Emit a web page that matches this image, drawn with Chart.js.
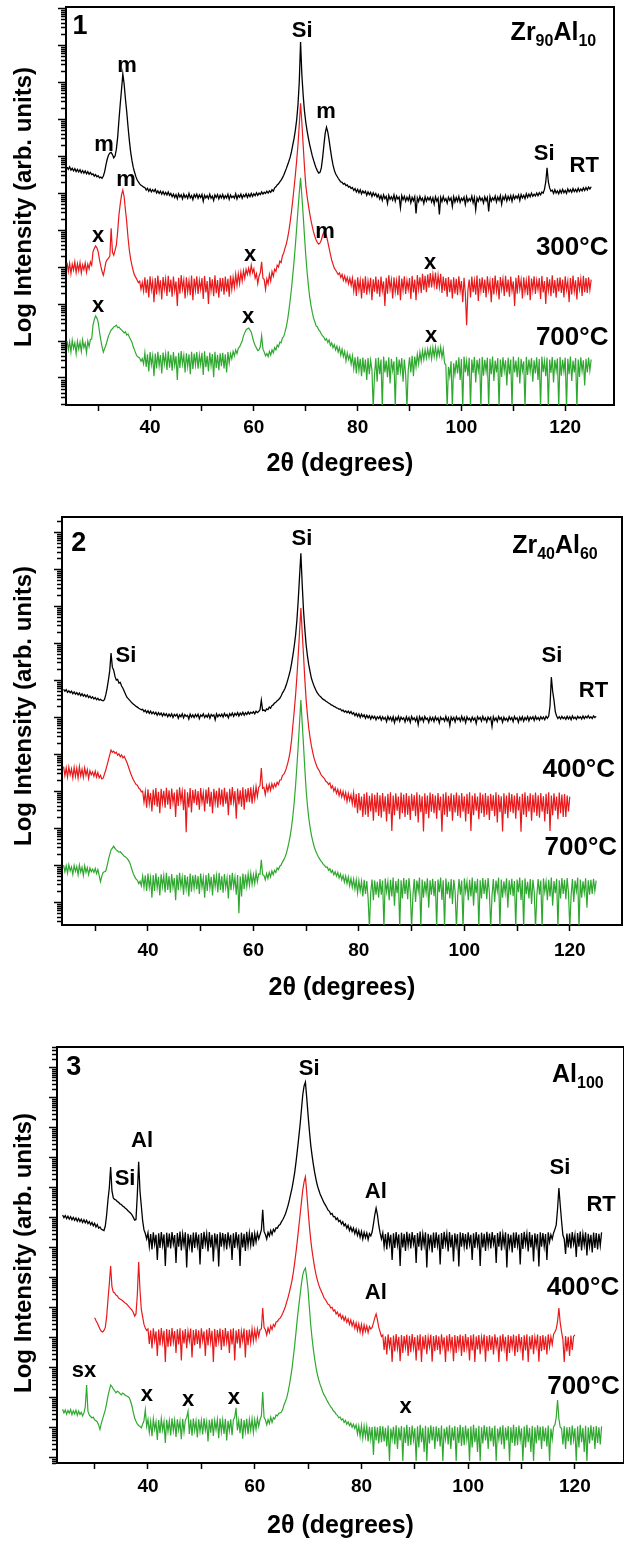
<!DOCTYPE html>
<html>
<head>
<meta charset="utf-8">
<title>XRD patterns – Zr90Al10, Zr40Al60, Al100</title>
<script src="https://cdn.jsdelivr.net/npm/chart.js@4.4.1/dist/chart.umd.min.js"></script>
<style>
  html, body { margin: 0; padding: 0; background: #ffffff; }
  body { position: relative; width: 624px; height: 1542px; overflow: hidden; }
  canvas { position: absolute; left: 0; }
</style>
</head>
<body>
<canvas id="panel1" width="624" height="500" style="top:0px"></canvas>
<canvas id="panel2" width="624" height="510" style="top:505px"></canvas>
<canvas id="panel3" width="624" height="507" style="top:1035px"></canvas>
<script>
// ---- measurement grid: 2θ from 24° in 0.25° steps ----
const angleStart = 24;
const angleStep = 0.25;

// ---- x axis ticks (degrees) ----
const xTickValues = [30, 40, 50, 60, 70, 80, 90, 100, 110, 120, 130];
const xTickLabels = [40, 60, 80, 100, 120];

// ---- Panel 1: Zr90Al10, log intensity (decades, vertically offset per anneal) ----
const zr90al10_RT = [
  5.70, 5.64, 5.71, 5.62, 5.67, 5.60, 5.66, 5.58, 5.64, 5.57, 5.63, 5.55, 5.61, 5.54, 5.60, 5.52, 5.58, 5.51, 5.56, 5.50,
  5.52, 5.46, 5.50, 5.44, 5.47, 5.41, 5.43, 5.40, 5.46, 5.58, 5.76, 5.92, 6.03, 6.08, 6.10, 6.04, 5.95, 6.00, 6.18, 6.50,
  6.97, 7.40, 7.80, 8.22, 7.95, 7.55, 7.20, 6.80, 6.43, 6.12, 5.89, 5.70, 5.57, 5.45, 5.36, 5.30, 5.25, 5.21, 5.19, 5.16,
  5.15, 5.08, 5.13, 5.05, 5.11, 5.03, 5.09, 5.04, 5.10, 5.00, 5.06, 4.99, 5.05, 4.97, 5.04, 4.96, 5.02, 4.95, 5.03, 4.94,
  4.99, 4.90, 4.97, 4.88, 4.96, 4.85, 4.98, 4.89, 4.95, 4.84, 4.97, 4.88, 4.94, 4.86, 4.99, 4.87, 4.93, 4.82, 4.96, 4.89,
  4.97, 4.86, 4.95, 4.88, 4.96, 4.78, 4.94, 4.87, 4.93, 4.85, 4.97, 4.86, 4.92, 4.80, 4.95, 4.88, 4.96, 4.84, 4.94, 4.87,
  4.96, 4.85, 4.93, 4.87, 4.97, 4.83, 4.95, 4.88, 4.92, 4.86, 4.98, 4.84, 4.94, 4.89, 4.97, 4.86, 4.95, 4.90, 4.98, 4.88,
  4.97, 4.90, 4.99, 4.91, 4.98, 4.93, 5.01, 4.94, 5.00, 4.96, 5.03, 4.97, 5.02, 4.99, 5.05, 5.00, 5.06, 5.02, 5.09, 5.05,
  5.14, 5.17, 5.22, 5.25, 5.30, 5.35, 5.41, 5.48, 5.57, 5.66, 5.76, 5.86, 5.97, 6.12, 6.30, 6.48, 6.70, 6.98, 7.38, 8.00,
  9.08, 8.20, 7.65, 7.22, 6.92, 6.69, 6.49, 6.31, 6.16, 6.01, 5.89, 5.78, 5.68, 5.60, 5.54, 5.56, 5.68, 5.95, 6.30, 6.62,
  6.78, 6.65, 6.43, 6.18, 5.95, 5.76, 5.62, 5.52, 5.46, 5.40, 5.35, 5.30, 5.29, 5.24, 5.26, 5.20, 5.22, 5.16, 5.18, 5.12,
  5.15, 5.07, 5.12, 5.03, 5.10, 5.01, 5.09, 4.98, 5.06, 5.00, 5.05, 4.94, 5.03, 4.96, 5.02, 4.91, 5.01, 4.93, 4.99, 4.89,
  4.96, 4.84, 4.93, 4.80, 4.95, 4.85, 4.91, 4.72, 4.94, 4.83, 4.90, 4.81, 4.95, 4.78, 4.92, 4.84, 4.89, 4.60, 4.93, 4.82,
  4.91, 4.78, 4.89, 4.80, 4.92, 4.74, 4.88, 4.79, 4.90, 4.45, 4.87, 4.77, 4.91, 4.80, 4.86, 4.72, 4.90, 4.78, 4.88, 4.81,
  4.89, 4.76, 4.87, 4.70, 4.90, 4.78, 4.86, 4.42, 4.88, 4.77, 4.91, 4.79, 4.85, 4.73, 4.89, 4.80, 4.87, 4.64, 4.90, 4.76,
  4.88, 4.78, 4.91, 4.75, 4.86, 4.80, 4.89, 4.69, 4.90, 4.77, 4.85, 4.79, 4.92, 4.74, 4.88, 4.55, 4.87, 4.78, 4.90, 4.80,
  4.86, 4.73, 4.90, 4.79, 4.88, 4.50, 4.91, 4.78, 4.87, 4.81, 4.92, 4.76, 4.89, 4.80, 4.93, 4.70, 4.90, 4.82, 4.94, 4.79,
  4.91, 4.82, 4.93, 4.78, 4.94, 4.84, 4.92, 4.86, 4.95, 4.80, 4.96, 4.87, 4.94, 4.85, 4.98, 4.88, 4.97, 4.90, 5.00, 4.91,
  4.97, 4.92, 5.00, 4.93, 5.01, 4.95, 5.03, 5.00, 5.10, 5.30, 5.68, 5.30, 5.14, 5.05, 5.08, 4.99, 5.09, 5.00, 5.06, 4.98,
  5.08, 5.00, 5.10, 5.01, 5.07, 4.99, 5.11, 5.03, 5.09, 5.02, 5.12, 5.04, 5.10, 5.03, 5.13, 5.05, 5.11, 5.06, 5.14, 5.07,
  5.15, 5.08, 5.16, 5.11, 5.17
];
const zr90al10_300C = [
  3.12, 2.88, 3.10, 2.82, 3.08, 2.92, 3.14, 2.85, 3.09, 2.90, 3.12, 2.84, 3.06, 2.93, 3.11, 2.86, 3.08, 2.95, 3.14, 3.05,
  3.41, 3.50, 3.57, 3.52, 3.41, 3.20, 3.03, 2.88, 2.78, 2.95, 3.14, 3.20, 3.24, 3.30, 4.05, 3.40, 3.32, 3.45, 3.59, 3.95,
  4.41, 4.70, 4.95, 5.08, 4.90, 4.55, 4.22, 3.80, 3.46, 3.22, 3.05, 2.90, 2.78, 2.72, 2.65, 2.58, 2.62, 2.40, 2.58, 2.35,
  2.72, 2.30, 2.66, 2.18, 2.75, 2.38, 2.62, 2.05, 2.70, 2.26, 2.77, 2.35, 2.64, 2.12, 2.73, 2.40, 2.68, 2.22, 2.76, 2.32,
  2.66, 2.20, 2.74, 2.36, 2.61, 1.95, 2.71, 2.28, 2.78, 2.40, 2.65, 2.15, 2.72, 2.33, 2.63, 2.24, 2.77, 2.10, 2.69, 2.37,
  2.75, 2.27, 2.64, 2.39, 2.70, 2.14, 2.76, 2.31, 2.62, 2.00, 2.73, 2.36, 2.67, 2.21, 2.78, 2.29, 2.65, 2.17, 2.71, 2.34,
  2.70, 2.25, 2.74, 2.33, 2.68, 2.20, 2.77, 2.40, 2.72, 2.45, 2.80, 2.50, 2.82, 2.55, 2.86, 2.62, 2.90, 2.70, 2.94, 2.80,
  2.97, 2.80, 3.05, 2.85, 2.95, 2.70, 2.82, 2.55, 2.76, 2.85, 3.14, 2.70, 2.66, 2.40, 2.68, 2.55, 2.80, 2.62, 2.88, 2.75,
  2.94, 2.88, 3.05, 3.00, 3.16, 3.12, 3.30, 3.38, 3.51, 3.62, 3.78, 3.98, 4.22, 4.50, 4.81, 5.15, 5.49, 5.88, 6.30, 6.85,
  7.43, 6.90, 6.30, 5.72, 5.22, 4.92, 4.68, 4.46, 4.27, 4.10, 3.95, 3.83, 3.73, 3.66, 3.62, 3.65, 3.73, 3.86, 3.95, 3.92,
  3.84, 3.68, 3.51, 3.34, 3.19, 3.08, 2.97, 2.92, 2.86, 2.80, 2.84, 2.72, 2.80, 2.64, 2.76, 2.60, 2.72, 2.55, 2.70, 2.50,
  2.70, 2.35, 2.66, 2.22, 2.72, 2.38, 2.64, 2.15, 2.69, 2.30, 2.75, 2.25, 2.62, 2.36, 2.71, 2.10, 2.67, 2.33, 2.74, 2.28,
  2.66, 2.20, 2.74, 2.36, 2.61, 1.95, 2.71, 2.28, 2.78, 2.40, 2.65, 2.15, 2.72, 2.33, 2.63, 2.24, 2.77, 2.10, 2.69, 2.37,
  2.75, 2.27, 2.64, 2.39, 2.70, 2.14, 2.76, 2.31, 2.66, 2.10, 2.78, 2.40, 2.72, 2.30, 2.82, 2.38, 2.76, 2.32, 2.80, 2.44,
  2.84, 2.45, 2.80, 2.50, 2.85, 2.40, 2.78, 2.46, 2.82, 2.30, 2.74, 2.36, 2.70, 2.20, 2.73, 2.32, 2.66, 2.15, 2.72, 2.28,
  2.68, 2.24, 2.75, 2.35, 2.62, 2.05, 2.71, 2.30, 1.43, 2.38, 2.66, 2.18, 2.74, 2.32, 2.63, 2.25, 2.77, 2.08, 2.69, 2.36,
  2.72, 2.30, 2.66, 2.18, 2.75, 2.38, 2.62, 2.05, 2.70, 2.26, 2.77, 2.35, 2.64, 2.12, 2.73, 2.40, 2.68, 2.22, 2.76, 2.32,
  2.66, 2.20, 2.74, 2.36, 2.61, 1.95, 2.71, 2.28, 2.78, 2.40, 2.65, 2.15, 2.72, 2.33, 2.63, 2.24, 2.77, 2.10, 2.69, 2.37,
  2.75, 2.27, 2.64, 2.39, 2.70, 2.14, 2.76, 2.31, 2.62, 2.00, 2.73, 2.36, 2.67, 2.21, 2.78, 2.29, 2.65, 2.17, 2.71, 2.34,
  2.72, 2.30, 2.66, 2.18, 2.75, 2.38, 2.62, 2.05, 2.70, 2.26, 2.77, 2.35, 2.64, 2.12, 2.73, 2.40, 2.68, 2.22, 2.76, 2.32,
  2.70, 2.30, 2.72, 2.38, 2.66
];
const zr90al10_700C = [
  1.00, 0.76, 0.98, 0.70, 1.02, 0.80, 0.95, 0.66, 0.99, 0.78, 0.97, 0.72, 1.03, 0.82, 0.94, 0.68, 1.00, 0.85, 1.04, 1.05,
  1.43, 1.58, 1.68, 1.62, 1.51, 1.25, 1.03, 0.84, 0.70, 0.80, 0.89, 1.02, 1.14, 1.22, 1.30, 1.33, 1.38, 1.40, 1.43, 1.36,
  1.38, 1.33, 1.30, 1.26, 1.22, 1.25, 1.16, 1.19, 1.11, 1.04, 0.97, 0.85, 0.76, 0.66, 0.59, 0.56, 0.54, 0.45, 0.52, 0.38,
  0.68, 0.30, 0.64, 0.18, 0.70, 0.36, 0.60, 0.05, 0.66, 0.26, 0.71, 0.33, 0.62, 0.12, 0.69, 0.38, 0.65, 0.22, 0.72, 0.28,
  0.63, 0.20, 0.70, 0.34, 0.59, -0.05, 0.68, 0.27, 0.73, 0.37, 0.61, 0.15, 0.67, 0.31, 0.64, 0.10, 0.71, 0.24, 0.66, 0.35,
  0.70, 0.25, 0.62, 0.36, 0.68, 0.08, 0.72, 0.29, 0.60, 0.18, 0.69, 0.33, 0.65, 0.02, 0.71, 0.27, 0.63, 0.21, 0.67, 0.32,
  0.68, 0.26, 0.64, 0.15, 0.70, 0.40, 0.66, 0.52, 0.72, 0.60, 0.76, 0.66, 0.80, 0.84, 0.92, 1.00, 1.14, 1.22, 1.30, 1.33,
  1.35, 1.30, 1.24, 1.10, 0.97, 0.88, 0.81, 0.74, 0.76, 0.85, 1.14, 0.78, 0.70, 0.60, 0.66, 0.58, 0.72, 0.62, 0.76, 0.68,
  0.82, 0.76, 0.89, 0.84, 0.97, 0.95, 1.08, 1.12, 1.24, 1.38, 1.57, 1.82, 2.11, 2.42, 2.78, 3.16, 3.59, 4.05, 4.54, 5.00,
  5.41, 4.92, 4.41, 3.85, 3.32, 2.88, 2.51, 2.20, 1.97, 1.78, 1.62, 1.52, 1.41, 1.38, 1.30, 1.26, 1.19, 1.14, 1.10, 1.02,
  1.06, 0.96, 1.03, 0.88, 0.95, 0.82, 0.90, 0.76, 0.86, 0.70, 0.82, 0.62, 0.78, 0.58, 0.72, 0.46, 0.68, 0.50, 0.62, 0.38,
  0.60, 0.25, 0.56, 0.12, 0.58, 0.20, 0.52, 0.05, 0.55, 0.15, 0.50, -0.05, 0.54, 0.10, 0.48, 0.22, -0.80, 0.08, 0.53, -0.10,
  0.55, 0.10, 0.50, -0.80, 0.58, 0.15, 0.47, 0.02, 0.56, -0.15, 0.52, 0.20, 0.45, -0.80, 0.57, 0.08, 0.50, 0.18, 0.54, -0.10,
  0.50, 0.10, -0.80, 0.22, 0.56, 0.15, 0.60, 0.05, 0.58, 0.30, 0.64, 0.38, 0.70, 0.45, 0.74, 0.50, 0.76, 0.54, 0.78, 0.56,
  0.80, 0.52, 0.82, 0.58, 0.84, 0.55, 0.80, 0.60, 0.84, 0.56, 0.78, 0.40, 0.35, -0.80, 0.30, 0.05, 0.45, -0.80, 0.40, 0.10,
  0.48, 0.12, 0.56, -0.05, 0.51, -0.80, 0.58, 0.16, 0.46, 0.05, 0.55, -0.80, 0.50, 0.14, 0.57, -0.12, 0.49, 0.20, 0.53, -0.80,
  0.57, 0.06, 0.49, 0.18, 0.55, -0.80, 0.52, 0.10, 0.58, -0.08, 0.47, 0.15, 0.54, -0.80, 0.50, 0.03, 0.56, 0.19, 0.48, -0.20,
  0.55, 0.10, 0.50, -0.80, 0.58, 0.15, 0.47, 0.02, 0.56, -0.15, 0.52, 0.20, 0.45, -0.80, 0.57, 0.08, 0.50, 0.18, 0.54, -0.10,
  0.48, 0.12, 0.56, -0.05, 0.51, -0.80, 0.58, 0.16, 0.46, 0.05, 0.55, -0.80, 0.50, 0.14, 0.57, -0.12, 0.49, 0.20, 0.53, -0.80,
  0.57, 0.06, 0.49, 0.18, 0.55, -0.80, 0.52, 0.10, 0.58, -0.08, 0.47, 0.15, 0.54, -0.80, 0.50, 0.03, 0.56, 0.19, 0.48, -0.20,
  0.52, 0.15, 0.55, 0.20, 0.50
];

// ---- Panel 2: Zr40Al60 ----
const zr40al60_RT = [
  5.75, 5.70, 5.74, 5.67, 5.71, 5.66, 5.70, 5.63, 5.68, 5.62, 5.66, 5.60, 5.65, 5.58, 5.63, 5.57, 5.61, 5.55, 5.60, 5.53,
  5.57, 5.51, 5.55, 5.49, 5.53, 5.47, 5.51, 5.46, 5.48, 5.45, 5.44, 5.47, 5.60, 5.78, 6.00, 6.25, 6.73, 6.35, 6.27, 6.10,
  6.00, 6.02, 5.92, 5.94, 5.84, 5.78, 5.70, 5.62, 5.54, 5.50, 5.46, 5.42, 5.38, 5.35, 5.32, 5.29, 5.27, 5.24, 5.22, 5.20,
  5.21, 5.15, 5.19, 5.12, 5.17, 5.10, 5.16, 5.09, 5.14, 5.08, 5.13, 5.05, 5.12, 5.06, 5.11, 5.03, 5.10, 5.04, 5.09, 5.01,
  5.08, 5.02, 5.09, 4.99, 5.07, 5.03, 5.08, 4.97, 5.06, 5.01, 5.09, 4.98, 5.07, 5.02, 5.05, 4.95, 5.08, 5.00, 5.06, 4.99,
  5.07, 5.01, 5.08, 4.96, 5.06, 5.02, 5.09, 4.99, 5.05, 5.00, 5.08, 4.97, 5.07, 5.03, 5.06, 4.93, 5.09, 5.01, 5.07, 5.02,
  5.08, 5.00, 5.10, 5.03, 5.07, 4.98, 5.09, 5.04, 5.11, 5.02, 5.10, 5.05, 5.12, 5.03, 5.11, 5.06, 5.13, 5.05, 5.12, 5.07,
  5.14, 5.08, 5.13, 5.10, 5.15, 5.09, 5.16, 5.12, 5.15, 5.20, 5.46, 5.18, 5.19, 5.16, 5.22, 5.20, 5.27, 5.24, 5.31, 5.33,
  5.38, 5.40, 5.44, 5.47, 5.51, 5.57, 5.65, 5.71, 5.78, 5.88, 6.00, 6.13, 6.27, 6.46, 6.68, 6.93, 7.22, 7.62, 8.16, 8.80,
  9.43, 8.60, 7.89, 7.38, 6.95, 6.65, 6.41, 6.22, 6.05, 5.94, 5.84, 5.76, 5.68, 5.63, 5.58, 5.55, 5.51, 5.48, 5.46, 5.43,
  5.41, 5.38, 5.36, 5.33, 5.32, 5.29, 5.28, 5.25, 5.24, 5.21, 5.22, 5.17, 5.19, 5.14, 5.17, 5.12, 5.16, 5.10, 5.15, 5.08,
  5.12, 5.04, 5.10, 5.02, 5.09, 4.99, 5.08, 5.01, 5.06, 4.97, 5.05, 4.98, 5.04, 4.95, 5.03, 4.97, 5.02, 4.93, 5.01, 4.96,
  5.02, 4.92, 5.01, 4.94, 4.99, 4.88, 5.02, 4.93, 5.00, 4.90, 5.01, 4.85, 4.99, 4.92, 5.02, 4.89, 5.00, 4.94, 4.98, 4.87,
  5.01, 4.91, 4.99, 4.86, 5.02, 4.93, 4.98, 4.89, 5.00, 4.80, 5.01, 4.92, 4.99, 4.88, 5.02, 4.94, 4.97, 4.86, 5.00, 4.91,
  4.99, 4.88, 5.01, 4.92, 4.98, 4.84, 5.00, 4.93, 4.97, 4.89, 5.02, 4.90, 4.98, 4.78, 5.00, 4.92, 4.99, 4.87, 5.01, 4.93,
  4.98, 4.89, 5.02, 4.91, 4.99, 4.85, 5.01, 4.93, 4.97, 4.88, 5.00, 4.92, 4.98, 4.83, 5.01, 4.94, 4.99, 4.89, 5.02, 4.92,
  4.98, 4.87, 5.00, 4.93, 4.99, 4.75, 5.01, 4.91, 4.98, 4.88, 5.02, 4.94, 4.99, 4.86, 5.00, 4.92, 4.97, 4.89, 5.01, 4.93,
  4.99, 4.88, 5.02, 4.94, 4.98, 4.86, 5.00, 4.92, 5.01, 4.89, 4.99, 4.93, 5.02, 4.90, 5.00, 4.95, 5.01, 4.91, 5.02, 4.94,
  4.99, 4.92, 5.01, 4.95, 5.00, 4.93, 5.02, 4.97, 5.03, 5.30, 6.08, 5.70, 5.46, 5.15, 5.03, 4.96, 5.01, 4.95, 5.02, 4.96,
  5.00, 4.94, 5.02, 4.95, 5.01, 4.93, 5.03, 4.96, 5.00, 4.94, 5.02, 4.97, 5.01, 4.95, 5.03, 4.96, 5.02, 4.98, 5.04, 4.97,
  5.01, 4.96, 5.03, 4.99, 5.02
];
const zr40al60_400C = [
  3.66, 3.42, 3.63, 3.38, 3.65, 3.44, 3.60, 3.36, 3.64, 3.40, 3.62, 3.35, 3.66, 3.41, 3.59, 3.37, 3.63, 3.43, 3.58, 3.34,
  3.55, 3.44, 3.52, 3.40, 3.54, 3.38, 3.50, 3.36, 3.43, 3.33, 3.35, 3.46, 3.57, 3.70, 3.84, 3.98, 4.11, 4.05, 4.08, 4.02,
  4.05, 3.97, 4.01, 3.93, 3.98, 3.90, 3.94, 3.86, 3.78, 3.68, 3.57, 3.47, 3.38, 3.30, 3.24, 3.18, 3.16, 3.08, 3.05, 2.98,
  3.00, 2.70, 2.98, 2.55, 3.05, 2.66, 2.95, 2.45, 3.04, 2.62, 3.08, 2.58, 2.98, 2.40, 3.06, 2.68, 3.01, 2.55, 3.09, 2.63,
  3.02, 2.52, 3.07, 2.69, 2.96, 2.30, 3.04, 2.60, 3.10, 2.72, 2.99, 2.48, 3.05, 1.89, 2.97, 2.56, 3.08, 2.42, 3.03, 2.67,
  3.05, 2.62, 3.00, 2.50, 3.08, 2.70, 2.95, 2.45, 3.04, 2.66, 3.10, 2.58, 2.98, 2.40, 3.06, 2.68, 3.01, 2.55, 3.09, 2.63,
  3.04, 2.58, 3.09, 2.66, 2.98, 2.35, 3.06, 2.62, 3.11, 2.70, 3.00, 2.25, 3.07, 2.64, 3.02, 2.58, 3.10, 2.50, 3.05, 2.70,
  3.08, 2.70, 3.10, 2.66, 3.06, 2.78, 3.12, 2.85, 3.10, 3.15, 3.62, 3.08, 3.10, 2.90, 3.15, 3.00, 3.18, 3.02, 3.20, 3.08,
  3.20, 3.12, 3.24, 3.18, 3.30, 3.30, 3.42, 3.45, 3.52, 3.62, 3.75, 3.90, 4.10, 4.40, 4.80, 5.18, 5.60, 6.10, 6.68, 7.30,
  7.95, 7.30, 6.68, 6.02, 5.46, 5.05, 4.70, 4.44, 4.22, 4.05, 3.89, 3.78, 3.68, 3.60, 3.55, 3.46, 3.41, 3.37, 3.33, 3.26,
  3.24, 3.18, 3.22, 3.08, 3.14, 3.00, 3.09, 2.94, 3.05, 2.88, 3.02, 2.84, 2.99, 2.80, 2.96, 2.72, 2.93, 2.75, 2.90, 2.66,
  2.95, 2.55, 2.92, 2.40, 2.95, 2.48, 2.85, 2.30, 2.93, 2.36, 2.97, 2.30, 2.87, 2.45, 2.94, 2.20, 2.90, 2.42, 2.96, 2.33,
  2.89, 2.28, 2.95, 2.44, 2.86, 2.18, 2.93, 2.38, 2.97, 1.92, 2.88, 2.35, 2.94, 2.47, 2.85, 2.24, 2.96, 2.40, 2.91, 2.30,
  2.95, 2.36, 2.87, 2.22, 2.93, 2.46, 2.89, 2.32, 2.97, 2.15, 2.90, 2.43, 2.86, 1.91, 2.94, 2.38, 2.88, 2.27, 2.96, 2.44,
  2.92, 2.40, 2.88, 2.25, 2.95, 2.48, 2.85, 1.90, 2.93, 2.36, 2.97, 2.30, 2.87, 2.45, 2.94, 2.20, 2.90, 2.42, 2.96, 2.33,
  2.89, 2.28, 2.95, 2.44, 2.86, 2.18, 2.93, 2.38, 2.97, 1.92, 2.88, 2.35, 2.94, 2.47, 2.85, 2.24, 2.96, 2.40, 2.91, 2.30,
  2.95, 2.36, 2.87, 2.22, 2.93, 2.46, 2.89, 2.32, 2.97, 2.15, 2.90, 2.43, 2.86, 1.91, 2.94, 2.38, 2.88, 2.27, 2.96, 2.44,
  2.92, 2.40, 2.88, 2.25, 2.95, 2.48, 2.85, 1.90, 2.93, 2.36, 2.97, 2.30, 2.87, 2.45, 2.94, 2.20, 2.90, 2.42, 2.96, 2.33,
  2.89, 2.28, 2.95, 2.44, 2.86, 2.18, 2.93, 2.38, 2.97, 1.92, 2.88, 2.35, 2.94, 2.47, 2.85, 2.24, 2.96, 2.40, 2.91, 2.30,
  2.92, 2.30, 2.88, 2.45, 2.85, null, null, null, null, null, null, null, null, null, null, null, null, null, null, null,
  null, null, null, null, null
];
const zr40al60_700C = [
  1.00, 0.82, 0.98, 0.78, 1.01, 0.84, 0.95, 0.75, 0.99, 0.83, 0.96, 0.74, 1.00, 0.81, 0.94, 0.72, 0.98, 0.80, 0.93, 0.74,
  0.92, 0.82, 0.89, 0.80, 0.91, 0.77, 0.88, 0.72, 0.55, 0.70, 0.80, 0.82, 0.84, 0.98, 1.14, 1.28, 1.41, 1.46, 1.51, 1.45,
  1.41, 1.38, 1.35, 1.36, 1.32, 1.28, 1.24, 1.22, 1.19, 1.14, 1.08, 0.98, 0.86, 0.76, 0.68, 0.62, 0.59, 0.50, 0.56, 0.44,
  0.70, 0.40, 0.72, 0.30, 0.77, 0.40, 0.66, 0.12, 0.73, 0.30, 0.78, 0.38, 0.68, 0.18, 0.75, 0.42, 0.71, 0.26, 0.79, 0.33,
  0.70, 0.25, 0.76, 0.39, 0.65, 0.05, 0.74, 0.32, 0.79, 0.41, 0.67, 0.20, 0.73, 0.36, 0.69, 0.15, 0.77, 0.28, 0.72, 0.38,
  0.74, 0.35, 0.70, 0.22, 0.77, 0.40, 0.66, 0.12, 0.73, 0.30, 0.78, 0.38, 0.68, 0.18, 0.75, 0.42, 0.71, 0.26, 0.79, 0.33,
  0.70, 0.25, 0.76, 0.39, 0.65, 0.10, 0.74, 0.32, 0.79, 0.41, 0.67, 0.20, 0.73, -0.30, 0.69, 0.15, 0.77, 0.35, 0.75, 0.42,
  0.76, 0.45, 0.78, 0.48, 0.74, 0.50, 0.80, 0.55, 0.76, 0.75, 1.14, 0.74, 0.72, 0.60, 0.77, 0.64, 0.80, 0.68, 0.84, 0.74,
  0.86, 0.80, 0.92, 0.88, 0.97, 1.00, 1.08, 1.14, 1.22, 1.32, 1.46, 1.62, 1.81, 2.05, 2.35, 2.72, 3.16, 3.68, 4.24, 4.85,
  5.46, 4.85, 4.24, 3.60, 3.03, 2.60, 2.27, 2.02, 1.81, 1.65, 1.51, 1.40, 1.32, 1.24, 1.18, 1.12, 1.08, 1.02, 0.99, 0.94,
  0.95, 0.86, 0.90, 0.80, 0.86, 0.74, 0.82, 0.70, 0.80, 0.65, 0.76, 0.60, 0.72, 0.54, 0.70, 0.50, 0.68, 0.44, 0.64, 0.40,
  0.62, 0.35, 0.60, 0.25, 0.58, 0.30, 0.56, 0.15, 0.60, 0.22, 0.57, 0.10, -0.70, 0.26, 0.61, 0.05, 0.58, 0.20, 0.55, 0.12,
  0.62, 0.20, 0.58, -0.70, 0.64, 0.28, 0.55, 0.05, 0.60, 0.15, 0.66, -0.10, 0.57, 0.24, 0.63, -0.70, 0.59, 0.10, 0.65, 0.22,
  0.60, 0.08, 0.65, 0.26, -0.70, 0.18, 0.62, 0.00, 0.58, 0.30, 0.66, -0.70, 0.61, 0.12, 0.56, 0.25, 0.64, -0.15, 0.59, 0.20,
  0.63, 0.16, 0.57, -0.70, 0.61, 0.27, 0.66, 0.06, 0.59, -0.70, 0.64, 0.21, 0.55, 0.10, 0.62, -0.05, 0.60, 0.29, -0.70, 0.18,
  0.62, 0.20, 0.58, -0.70, 0.64, 0.28, 0.55, 0.05, 0.60, 0.15, 0.66, -0.10, 0.57, 0.24, 0.63, -0.70, 0.59, 0.10, 0.65, 0.22,
  0.60, 0.08, 0.65, 0.26, -0.70, 0.18, 0.62, 0.00, 0.58, 0.30, 0.66, -0.70, 0.61, 0.12, 0.56, 0.25, 0.64, -0.15, 0.59, 0.20,
  0.63, 0.16, 0.57, -0.70, 0.61, 0.27, 0.66, 0.06, 0.59, -0.70, 0.64, 0.21, 0.55, 0.10, 0.62, -0.05, 0.60, 0.29, -0.70, 0.18,
  0.62, 0.20, 0.58, -0.70, 0.64, 0.28, 0.55, 0.05, 0.60, 0.15, 0.66, -0.10, 0.57, 0.24, 0.63, -0.70, 0.59, 0.10, 0.65, 0.22,
  0.60, 0.08, 0.65, 0.26, -0.70, 0.18, 0.62, 0.00, 0.58, 0.30, 0.66, -0.70, 0.61, 0.12, 0.56, 0.25, 0.64, -0.15, 0.59, 0.20,
  0.60, 0.22, 0.63, 0.30, 0.58
];

// ---- Panel 3: Al100 ----
const al100_RT = [
  8.10, 8.01, 8.08, 7.98, 8.06, 7.96, 8.04, 7.94, 8.02, 7.92, 8.00, 7.89, 7.98, 7.88, 7.96, 7.85, 7.94, 7.84, 7.92, 7.81,
  7.88, 7.77, 7.85, 7.74, 7.82, 7.70, 7.78, 7.66, 7.70, 7.62, 7.60, 7.58, 7.73, 8.10, 8.60, 9.00, 9.70, 8.90, 8.67, 8.62,
  8.60, 8.55, 8.52, 8.47, 8.45, 8.40, 8.37, 8.32, 8.29, 8.24, 8.20, 8.16, 8.10, 8.02, 7.93, 7.95, 8.77, 9.87, 8.90, 8.40,
  7.90, 7.60, 7.48, 7.30, 7.50, 7.05, 7.46, 6.95, 7.52, 7.12, 7.44, 6.60, 7.49, 7.00, 7.53, 7.10, 7.45, 6.40, 7.51, 7.02,
  7.48, 6.98, 7.53, 7.14, 7.43, 6.50, 7.50, 7.04, 7.55, 6.92, 7.46, 7.10, 7.52, 6.35, 7.47, 7.06, 7.44, 6.85, 7.51, 7.00,
  7.52, 7.08, 7.45, 6.45, 7.50, 6.97, 7.54, 7.12, 7.47, 6.88, 7.53, 7.02, 7.44, 6.55, 7.49, 7.09, 7.46, 6.38, 7.52, 7.04,
  7.50, 7.05, 7.46, 6.95, 7.52, 7.12, 7.44, 6.60, 7.49, 7.00, 7.53, 7.10, 7.45, 6.40, 7.51, 7.02, 7.47, 6.90, 7.54, 7.08,
  7.50, 7.10, 7.52, 7.05, 7.48, 7.20, 7.50, 7.30, 7.45, 7.60, 8.27, 7.55, 7.45, 7.30, 7.52, 7.40, 7.58, 7.45, 7.62, 7.55,
  7.67, 7.66, 7.75, 7.78, 7.87, 7.94, 8.03, 8.13, 8.27, 8.42, 8.60, 8.80, 9.00, 9.25, 9.53, 9.88, 10.27, 10.68, 11.10, 11.60,
  12.10, 12.40, 12.53, 12.00, 11.43, 10.90, 10.43, 10.08, 9.77, 9.50, 9.27, 9.08, 8.93, 8.80, 8.70, 8.60, 8.50, 8.43, 8.35, 8.26,
  8.22, 8.12, 8.15, 8.04, 8.05, 7.95, 8.00, 7.88, 7.92, 7.80, 7.87, 7.74, 7.80, 7.66, 7.75, 7.58, 7.70, 7.55, 7.66, 7.48,
  7.62, 7.42, 7.58, 7.36, 7.55, 7.30, 7.52, 7.34, 7.50, 7.28, 7.48, 7.40, 7.53, 7.80, 8.10, 8.33, 8.10, 7.75, 7.50, 7.30,
  7.50, 7.05, 7.46, 6.95, 7.52, 7.12, 7.44, 6.60, 7.49, 7.00, 7.53, 7.10, 7.45, 6.40, 7.51, 7.02, 7.47, 6.90, 7.54, 7.08,
  7.48, 6.98, 7.53, 7.14, 7.43, 6.50, 7.50, 7.04, 7.55, 6.92, 7.46, 7.10, 7.52, 6.35, 7.47, 7.06, 7.44, 6.85, 7.51, 7.00,
  7.52, 7.08, 7.45, 6.45, 7.50, 6.97, 7.54, 7.12, 7.47, 6.88, 7.53, 7.02, 7.44, 6.55, 7.49, 7.09, 7.46, 6.38, 7.52, 7.04,
  7.50, 7.05, 7.46, 6.95, 7.52, 7.12, 7.44, 6.60, 7.49, 7.00, 7.53, 7.10, 7.45, 6.40, 7.51, 7.02, 7.47, 6.90, 7.54, 7.08,
  7.48, 6.98, 7.53, 7.14, 7.43, 6.50, 7.50, 7.04, 7.55, 6.92, 7.46, 7.10, 7.52, 6.35, 7.47, 7.06, 7.44, 6.85, 7.51, 7.00,
  7.52, 7.08, 7.45, 6.45, 7.50, 6.97, 7.54, 7.12, 7.47, 6.88, 7.53, 7.02, 7.44, 6.55, 7.49, 7.09, 7.46, 6.38, 7.52, 7.04,
  7.50, 7.05, 7.46, 6.60, 7.52, 7.20, 7.44, 7.30, 7.50, 7.62, 7.77, 8.30, 9.00, 8.43, 7.90, 7.43, 7.30, 6.80, 7.48, 7.02,
  7.48, 6.98, 7.53, 7.14, 7.43, 6.70, 7.50, 7.04, 7.55, 6.92, 7.46, 7.10, 7.52, 6.75, 7.47, 7.06, 7.44, 6.85, 7.51, 7.00,
  7.50, 6.95, 7.47, 7.08, 7.52
];
const al100_400C = [
  null, null, null, null, null, null, null, null, null, null, null, null, null, null, null, null, null, null, null, null,
  null, null, null, null, 4.67, 4.58, 4.50, 4.40, 4.30, 4.22, 4.20, 4.25, 4.35, 4.70, 5.27, 5.80, 6.40, 5.70, 5.53, 5.50,
  5.43, 5.40, 5.33, 5.30, 5.27, 5.24, 5.20, 5.16, 5.13, 5.08, 5.03, 4.98, 4.93, 4.85, 4.73, 4.80, 5.43, 6.53, 5.60, 4.95,
  4.70, 4.45, 4.33, 4.25, 4.30, 3.80, 4.25, 3.65, 4.32, 3.90, 4.22, 3.40, 4.28, 3.75, 4.33, 3.85, 4.24, 3.20, 4.30, 3.70,
  4.27, 3.72, 4.33, 3.86, 4.23, 3.50, 4.29, 3.78, 4.32, 3.25, 4.25, 3.82, 4.30, 3.66, 4.22, 3.90, 4.31, 3.35, 4.26, 3.76,
  4.30, 3.80, 4.25, 3.65, 4.32, 3.90, 4.22, 3.40, 4.28, 3.75, 4.33, 3.85, 4.24, 3.20, 4.30, 3.70, 4.26, 3.88, 4.31, 3.60,
  4.27, 3.72, 4.33, 3.86, 4.23, 3.50, 4.29, 3.78, 4.32, 3.25, 4.25, 3.82, 4.30, 3.66, 4.22, 3.90, 4.31, 3.35, 4.26, 3.76,
  4.28, 3.85, 4.30, 3.90, 4.27, 3.95, 4.30, 4.05, 4.28, 4.30, 5.00, 4.35, 4.27, 4.10, 4.33, 4.18, 4.40, 4.28, 4.45, 4.38,
  4.53, 4.55, 4.62, 4.66, 4.73, 4.82, 4.93, 5.05, 5.20, 5.35, 5.53, 5.72, 5.93, 6.20, 6.53, 6.88, 7.27, 7.68, 8.10, 8.52,
  8.93, 9.20, 9.37, 8.85, 8.27, 7.72, 7.27, 6.90, 6.60, 6.33, 6.10, 5.92, 5.77, 5.65, 5.55, 5.45, 5.33, 5.28, 5.20, 5.12,
  5.10, 5.00, 5.02, 4.90, 4.94, 4.80, 4.86, 4.72, 4.80, 4.64, 4.74, 4.58, 4.70, 4.52, 4.64, 4.45, 4.60, 4.40, 4.55, 4.32,
  4.50, 4.25, 4.47, 4.20, 4.45, 4.15, 4.43, 4.22, 4.40, 4.18, 4.38, 4.30, 4.35, 4.50, 4.67, 4.80, 4.60, 4.35, 4.20, 4.05,
  4.10, 3.60, 4.05, 3.45, 4.12, 3.70, 4.02, 3.20, 4.08, 3.55, 4.13, 3.65, 4.04, 3.22, 4.10, 3.50, 4.06, 3.68, 4.11, 3.40,
  4.07, 3.52, 4.13, 3.66, 4.03, 3.25, 4.09, 3.58, 4.12, 3.20, 4.05, 3.62, 4.10, 3.46, 4.02, 3.70, 4.11, 3.21, 4.06, 3.56,
  4.10, 3.60, 4.05, 3.45, 4.12, 3.70, 4.02, 3.20, 4.08, 3.55, 4.13, 3.65, 4.04, 3.22, 4.10, 3.50, 4.06, 3.68, 4.11, 3.40,
  4.07, 3.52, 4.13, 3.66, 4.03, 3.25, 4.09, 3.58, 4.12, 3.20, 4.05, 3.62, 4.10, 3.46, 4.02, 3.70, 4.11, 3.21, 4.06, 3.56,
  4.10, 3.60, 4.05, 3.45, 4.12, 3.70, 4.02, 3.20, 4.08, 3.55, 4.13, 3.65, 4.04, 3.22, 4.10, 3.50, 4.06, 3.68, 4.11, 3.40,
  4.07, 3.52, 4.13, 3.66, 4.03, 3.25, 4.09, 3.58, 4.12, 3.20, 4.05, 3.62, 4.10, 3.46, 4.02, 3.70, 4.11, 3.21, 4.06, 3.56,
  4.10, 3.60, 4.05, 3.45, 4.12, 3.70, 4.04, 3.78, 4.12, 4.20, 4.30, 4.55, 5.00, 4.50, 4.20, 3.95, 3.20, 4.06, 3.55, 4.04,
  3.40, 4.08, 3.60, 4.05, 4.10, null, null, null, null, null, null, null, null, null, null, null, null, null, null, null,
  null, null, null, null, null
];
const al100_700C = [
  1.62, 1.50, 1.60, 1.46, 1.58, 1.49, 1.61, 1.44, 1.57, 1.47, 1.59, 1.42, 1.56, 1.45, 1.52, 1.40, 1.50, 1.70, 2.43, 1.55,
  1.43, 1.38, 1.33, 1.36, 1.27, 1.24, 1.20, 1.10, 0.95, 1.15, 1.30, 1.45, 1.60, 1.82, 2.07, 2.25, 2.43, 2.38, 2.30, 2.24,
  2.17, 2.22, 2.20, 2.14, 2.10, 2.16, 2.13, 2.08, 2.07, 2.04, 2.00, 1.88, 1.73, 1.52, 1.33, 1.22, 1.13, 1.08, 1.05, 1.00,
  1.12, 1.25, 1.60, 1.05, 1.28, 0.85, 1.22, 0.72, 1.30, 0.95, 1.20, 0.60, 1.26, 0.82, 1.31, 0.92, 1.21, 0.50, 1.27, 0.88,
  1.24, 0.75, 1.32, 0.90, 1.25, 0.70, 1.29, 0.93, 1.22, 0.62, 1.30, 0.86, 1.26, 1.35, 1.55, 0.80, 1.28, 0.74, 1.31, 0.91,
  1.23, 0.68, 1.29, 0.88, 1.25, 0.78, 1.32, 0.92, 1.21, 0.55, 1.27, 0.84, 1.30, 0.73, 1.24, 0.94, 1.28, 0.66, 1.31, 0.86,
  1.26, 0.80, 1.30, 0.58, 1.24, 0.90, 1.29, 0.76, 1.27, 1.35, 1.67, 0.92, 1.25, 0.82, 1.31, 0.64, 1.26, 0.88, 1.30, 0.79,
  1.28, 0.92, 1.30, 0.85, 1.27, 0.96, 1.32, 1.05, 1.28, 1.40, 2.20, 1.35, 1.27, 1.10, 1.28, 1.15, 1.36, 1.18, 1.34, 1.30,
  1.43, 1.40, 1.48, 1.50, 1.53, 1.62, 1.77, 1.88, 2.00, 2.20, 2.43, 2.70, 3.00, 3.38, 3.77, 4.22, 4.67, 5.05, 5.43, 5.80,
  6.10, 6.25, 6.33, 6.00, 5.60, 5.00, 4.43, 3.98, 3.60, 3.28, 3.00, 2.78, 2.60, 2.45, 2.33, 2.20, 2.10, 2.02, 1.93, 1.85,
  1.77, 1.70, 1.65, 1.56, 1.53, 1.45, 1.42, 1.34, 1.36, 1.26, 1.30, 1.18, 1.25, 1.12, 1.20, 1.08, 1.16, 1.02, 1.12, 0.98,
  1.10, 0.80, 1.07, 0.72, 1.08, 0.65, 1.06, 0.70, 1.05, 0.55, 1.04, 0.62, 1.03, 0.10, 1.05, 0.58, 1.02, 0.48, 1.06, 0.52,
  1.05, 0.55, 1.00, 0.38, 1.08, -0.10, 0.98, 0.62, 1.04, 0.45, 1.09, 0.30, 1.01, 0.58, 1.06, -0.10, 1.02, 0.50, 1.10, 0.40,
  1.03, 0.42, 1.08, 0.60, 0.99, -0.10, 1.05, 0.35, 1.10, 0.52, 1.00, 0.20, 1.07, -0.10, 1.02, 0.48, 1.09, 0.58, 1.04, 0.30,
  1.05, 0.55, 1.00, 0.38, 1.08, -0.10, 0.98, 0.62, 1.04, 0.45, 1.09, 0.30, 1.01, 0.58, 1.06, -0.10, 1.02, 0.50, 1.10, 0.40,
  1.03, 0.42, 1.08, 0.60, 0.99, -0.10, 1.05, 0.35, 1.10, 0.52, 1.00, 0.20, 1.07, -0.10, 1.02, 0.48, 1.09, 0.58, 1.04, 0.30,
  1.05, 0.55, 1.00, 0.38, 1.08, -0.10, 0.98, 0.62, 1.04, 0.45, 1.09, 0.30, 1.01, 0.58, 1.06, -0.10, 1.02, 0.50, 1.10, 0.40,
  1.03, 0.42, 1.08, 0.60, 0.99, -0.10, 1.05, 0.35, 1.10, 0.52, 1.00, 0.20, 1.07, -0.10, 1.02, 0.48, 1.09, 0.58, 1.04, 0.30,
  1.05, 0.55, 1.00, 0.38, 1.08, -0.10, 0.98, 0.62, 1.04, 1.10, 1.35, 1.93, 1.30, 1.02, 0.98, 0.45, 1.05, 0.30, 1.02, 0.55,
  1.03, 0.42, 1.08, 0.60, 0.99, -0.10, 1.05, 0.35, 1.10, 0.52, 1.00, 0.20, 1.07, -0.10, 1.02, 0.48, 1.09, 0.58, 1.04, 0.30,
  1.06, 0.50, 1.02, 0.45, 1.05
];

// ---- colours ----
const colorRT = '#000000';
const colorMid = '#e8191b';
const colorHigh = '#2fa82f';
const fontFamily = '"Liberation Sans", Arial, Helvetica, sans-serif';

// ---- peak / phase labels (positioned in 2θ and log-intensity units) ----
const panel1Labels = [
  { text: '1', deg: 26.5, v: 9.49, size: 27 },
  { text: 'Si', deg: 69.3, v: 9.38, size: 22 },
  { text: 'm', deg: 35.56, v: 8.43, size: 22 },
  { text: 'm', deg: 31.13, v: 6.30, size: 22 },
  { text: 'm', deg: 73.92, v: 7.19, size: 22 },
  { text: 'Si', deg: 115.94, v: 6.05, size: 22 },
  { text: 'RT', deg: 123.66, v: 5.73, size: 22 },
  { text: 'm', deg: 35.37, v: 5.35, size: 22 },
  { text: 'x', deg: 29.97, v: 3.84, size: 22 },
  { text: 'x', deg: 59.27, v: 3.32, size: 22 },
  { text: 'm', deg: 73.73, v: 3.95, size: 22 },
  { text: 'x', deg: 93.97, v: 3.11, size: 22 },
  { text: '300°C', deg: 121.34, v: 3.51, size: 26 },
  { text: 'x', deg: 29.97, v: 1.95, size: 22 },
  { text: 'x', deg: 58.88, v: 1.65, size: 22 },
  { text: 'x', deg: 94.16, v: 1.14, size: 22 },
  { text: '700°C', deg: 121.34, v: 1.08, size: 26 }
];
const panel2Labels = [
  { text: '2', deg: 26.9, v: 9.68, size: 27 },
  { text: 'Si', deg: 69.2, v: 9.81, size: 22 },
  { text: 'Si', deg: 35.83, v: 6.65, size: 22 },
  { text: 'Si', deg: 116.6, v: 6.65, size: 22 },
  { text: 'RT', deg: 124.5, v: 5.70, size: 22 },
  { text: '400°C', deg: 121.7, v: 3.57, size: 26 },
  { text: '700°C', deg: 122.1, v: 1.46, size: 26 }
];
const panel3Labels = [
  { text: '3', deg: 26.1, v: 13.03, size: 27 },
  { text: 'Si', deg: 70.2, v: 12.97, size: 22 },
  { text: 'Al', deg: 38.9, v: 10.57, size: 22 },
  { text: 'Si', deg: 35.7, v: 9.3, size: 22 },
  { text: 'Al', deg: 82.7, v: 8.87, size: 22 },
  { text: 'Si', deg: 117.2, v: 9.67, size: 22 },
  { text: 'RT', deg: 124.9, v: 8.43, size: 22 },
  { text: 'Al', deg: 82.7, v: 5.5, size: 22 },
  { text: '400°C', deg: 121.5, v: 5.67, size: 26 },
  { text: 'sx', deg: 28.0, v: 2.9, size: 22 },
  { text: 'x', deg: 39.8, v: 2.1, size: 22 },
  { text: 'x', deg: 47.5, v: 1.93, size: 22 },
  { text: 'x', deg: 56.1, v: 2.0, size: 22 },
  { text: 'x', deg: 88.3, v: 1.7, size: 22 },
  { text: '700°C', deg: 121.6, v: 2.37, size: 26 }
];

// composition formulas: [text, isSubscript]
const panel1Formula = { parts: [['Zr', false], ['90', true], ['Al', false], ['10', true]], deg: 125.97, v: 9.14 };
const panel2Formula = { parts: [['Zr', false], ['40', true], ['Al', false], ['60', true]], deg: 125.3, v: 9.43 };
const panel3Formula = { parts: [['Al', false], ['100', true]], deg: 125.4, v: 12.53 };

function toPoints(values) {
  return values.map((v, i) => ({ x: angleStart + i * angleStep, y: v }));
}

// draws frame, minor log ticks, the y title and the peak labels
const decorPlugin = {
  id: 'decor',
  afterDatasetsDraw(chart, args, opts) {
    const { ctx, chartArea, scales } = chart;
    const xs = scales.x, ys = scales.y;
    ctx.save();
    // top and right frame lines
    ctx.strokeStyle = '#000';
    ctx.lineWidth = 2;
    ctx.beginPath();
    ctx.moveTo(chartArea.left - 1, chartArea.top);
    ctx.lineTo(chartArea.right, chartArea.top);
    ctx.lineTo(chartArea.right, chartArea.bottom + 1);
    ctx.stroke();

    // minor log ticks on the intensity axis
    ctx.lineWidth = 1.3;
    ctx.beginPath();
    for (let k = Math.floor(ys.min); k <= Math.ceil(ys.max); k++) {
      for (let m = 2; m <= 9; m++) {
        const val = k + Math.log10(m);
        if (val <= ys.min || val >= ys.max) continue;
        const py = Math.round(ys.getPixelForValue(val)) + 0.5;
        ctx.moveTo(chartArea.left - 1, py);
        ctx.lineTo(chartArea.left - 5, py);
      }
    }
    ctx.stroke();

    // y axis title
    ctx.fillStyle = '#000';
    ctx.font = 'bold 24px ' + fontFamily;
    ctx.textAlign = 'center';
    ctx.textBaseline = 'middle';
    ctx.save();
    ctx.translate(opts.yTitle.x, opts.yTitle.y);
    ctx.rotate(-Math.PI / 2);
    ctx.fillText('Log Intensity (arb. units)', 0, 0);
    ctx.restore();

    // peak labels
    for (const lab of opts.labels) {
      ctx.font = 'bold ' + lab.size + 'px ' + fontFamily;
      ctx.fillText(lab.text, xs.getPixelForValue(lab.deg), ys.getPixelForValue(lab.v));
    }

    // composition with subscripts, right aligned
    const f = opts.formula;
    const mainFont = 'bold 25px ' + fontFamily;
    const subFont = 'bold 16px ' + fontFamily;
    let total = 0;
    for (const [t, sub] of f.parts) {
      ctx.font = sub ? subFont : mainFont;
      total += ctx.measureText(t).width;
    }
    let px = xs.getPixelForValue(f.deg) - total;
    const py = ys.getPixelForValue(f.v);
    ctx.textAlign = 'left';
    ctx.textBaseline = 'alphabetic';
    for (const [t, sub] of f.parts) {
      ctx.font = sub ? subFont : mainFont;
      ctx.fillText(t, px, sub ? py + 6 : py);
      px += ctx.measureText(t).width;
    }
    ctx.restore();
  }
};

function buildPanel(cfg) {
  const canvas = document.getElementById(cfg.id);
  const H = canvas.height, W = canvas.width;
  const a = cfg.area;
  const xAxisHeight = H - a.bottom;
  const titleLine = 25 * 1.2;
  const tickFont = 19;

  new Chart(canvas, {
    type: 'line',
    data: {
      datasets: cfg.series.map(s => ({
        data: toPoints(s.values),
        borderColor: s.color,
        borderWidth: s.width,
        pointRadius: 0,
        tension: 0,
        spanGaps: false,
        order: s.order
      }))
    },
    options: {
      responsive: false,
      animation: false,
      devicePixelRatio: 1,
      parsing: false,
      normalized: true,
      layout: { autoPadding: false, padding: { top: a.top, right: W - a.right, left: 0, bottom: 0 } },
      plugins: {
        legend: { display: false },
        tooltip: { enabled: false },
        decor: { labels: cfg.labels, formula: cfg.formula, yTitle: cfg.yTitle }
      },
      scales: {
        x: {
          type: 'linear',
          position: 'bottom',
          min: cfg.xRange[0],
          max: cfg.xRange[1],
          afterFit(scale) { scale.height = xAxisHeight; },
          afterBuildTicks(scale) {
            scale.ticks = xTickValues.filter(v => v >= scale.min && v <= scale.max).map(v => ({ value: v }));
          },
          ticks: {
            autoSkip: false,
            maxRotation: 0,
            padding: cfg.tickOffset - 6 - tickFont * 0.6,
            color: '#000',
            font: { family: fontFamily, size: tickFont, weight: 'bold' },
            callback: v => (xTickLabels.includes(v) ? String(v) : '')
          },
          grid: { drawOnChartArea: false, drawTicks: true, tickLength: 6, tickWidth: 1.5, tickColor: '#000' },
          border: { display: true, color: '#000', width: 2 },
          title: {
            display: true,
            text: '2θ (degrees)',
            color: '#000',
            font: { family: fontFamily, size: 25, weight: 'bold' },
            padding: { top: 0, bottom: xAxisHeight - cfg.titleOffset - titleLine / 2 }
          }
        },
        y: {
          type: 'linear',
          position: 'left',
          min: cfg.yRange[0],
          max: cfg.yRange[1],
          afterFit(scale) { scale.width = a.left; },
          afterBuildTicks(scale) {
            const t = [];
            for (let k = Math.ceil(scale.min); k <= Math.floor(scale.max); k++) t.push({ value: k });
            scale.ticks = t;
          },
          ticks: { display: false },
          grid: { drawOnChartArea: false, drawTicks: true, tickLength: 8, tickWidth: 1.5, tickColor: '#000' },
          border: { display: true, color: '#000', width: 2 }
        }
      }
    },
    plugins: [decorPlugin]
  });
}

buildPanel({
  id: 'panel1',
  area: { left: 66, right: 614, top: 7, bottom: 405 },
  xRange: [23.8, 129.4],
  yRange: [-0.73, 10.03],
  tickOffset: 23,
  titleOffset: 59,
  yTitle: { x: 24, y: 207 },
  labels: panel1Labels,
  formula: panel1Formula,
  series: [
    { values: zr90al10_RT, color: colorRT, width: 1.3, order: 3 },
    { values: zr90al10_300C, color: colorMid, width: 1.2, order: 2 },
    { values: zr90al10_700C, color: colorHigh, width: 1.2, order: 1 }
  ]
});

buildPanel({
  id: 'panel2',
  area: { left: 62, right: 622, top: 12, bottom: 420 },
  xRange: [23.7, 129.9],
  yRange: [-0.62, 10.41],
  tickOffset: 26,
  titleOffset: 63,
  yTitle: { x: 24, y: 201 },
  labels: panel2Labels,
  formula: panel2Formula,
  series: [
    { values: zr40al60_RT, color: colorRT, width: 1.3, order: 3 },
    { values: zr40al60_400C, color: colorMid, width: 1.2, order: 2 },
    { values: zr40al60_700C, color: colorHigh, width: 1.2, order: 1 }
  ]
});

buildPanel({
  id: 'panel3',
  area: { left: 57, right: 624, top: 12, bottom: 428 },
  xRange: [22.95, 129.2],
  yRange: [-0.17, 13.7],
  tickOffset: 24,
  titleOffset: 63,
  yTitle: { x: 24, y: 218 },
  labels: panel3Labels,
  formula: panel3Formula,
  series: [
    { values: al100_RT, color: colorRT, width: 1.3, order: 3 },
    { values: al100_400C, color: colorMid, width: 1.2, order: 2 },
    { values: al100_700C, color: colorHigh, width: 1.2, order: 1 }
  ]
});
</script>
</body>
</html>
